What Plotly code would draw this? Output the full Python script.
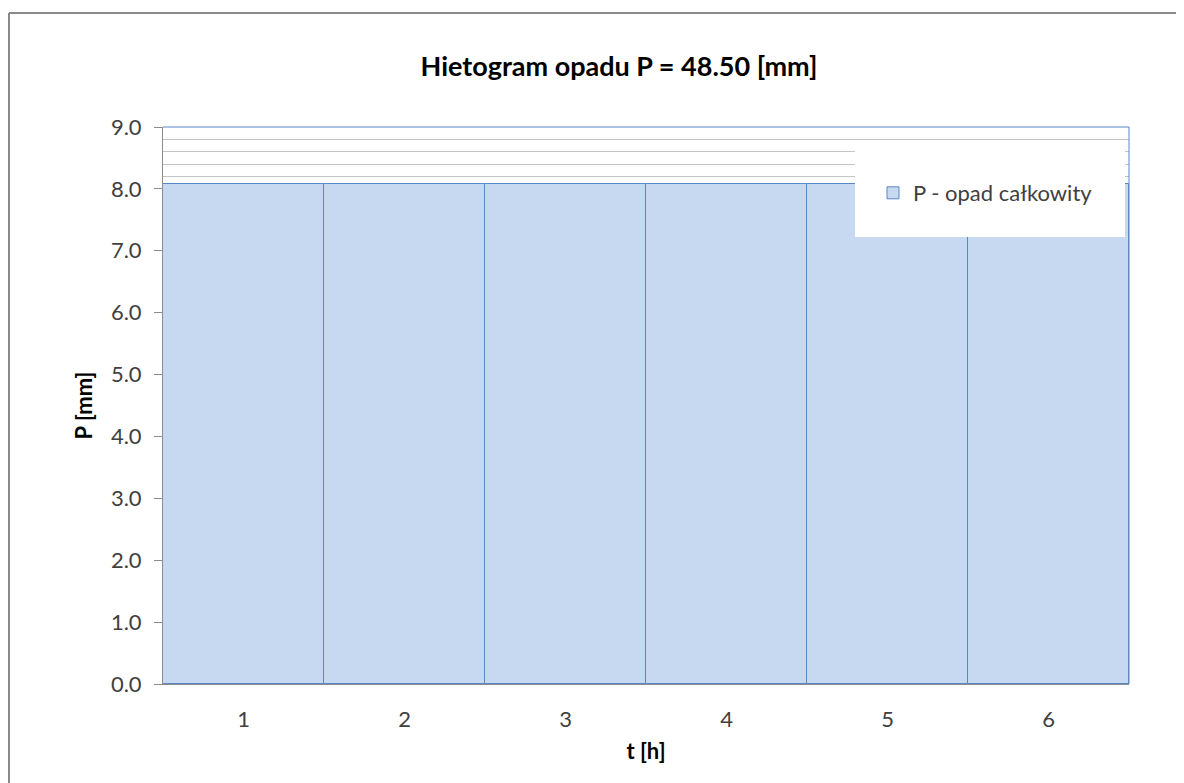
"""Hietogram opadu - wykres slupkowy opadu calkowitego w kolejnych godzinach."""
import plotly.graph_objects as go

# ── dane ──────────────────────────────────────────────────────────────────────
hours = ["1", "2", "3", "4", "5", "6"]
rain_mm = [8.08, 8.08, 8.08, 8.08, 8.08, 8.08]
total_mm = 48.50
y_ticks = [0.0, 1.0, 2.0, 3.0, 4.0, 5.0, 6.0, 7.0, 8.0, 9.0]

# ── styl ──────────────────────────────────────────────────────────────────────
_FONT = "Lato, Carlito, Calibri, sans-serif"
_C = {
    "fill": "#C6D9F0",
    "edge": "#5B86C5",
    "axis": "#8C8C8C",
    "grid": "#C4C4C4",
    "text": "#404040",
    "frame": "#8A8A8A",
}

# strona html ma 8 px marginesu, wiec wykres jest o tyle mniejszy
OFF = 8
W, H = 1184 - OFF, 783 - OFF
L, R, T, B = 163 - OFF, 1184 - 1129, 127 - OFF, 783 - 684
pw, ph = W - L - R, H - T - B


def px_x(p):
    """Pozycja piksela (wspolrzedne ekranu) -> paper x."""
    return (p - OFF - L) / pw


def px_y(p):
    """Pozycja piksela (wspolrzedne ekranu) -> paper y."""
    return (H - B - (p - OFF)) / ph


fig = go.Figure(go.Bar(
    x=hours,
    y=rain_mm,
    name="P - opad całkowity",
    marker=dict(color=_C["fill"], line=dict(color=_C["edge"], width=1)),
    hovertemplate="t = %{x} h<br>P = %{y:.2f} mm<extra></extra>",
))

fig.update_layout(
    width=W,
    height=H,
    margin=dict(l=L, r=R, t=T, b=B, autoexpand=False),
    paper_bgcolor="white",
    plot_bgcolor="white",
    bargap=0,
    font=dict(family=_FONT, size=22, color=_C["text"]),
    title=dict(
        text="<b>Hietogram opadu P = %.2f [mm]</b>" % total_mm,
        font=dict(family=_FONT, size=27, color="black"),
        x=px_x(619), xref="paper", xanchor="center",
        y=1 - (67 - OFF) / H, yref="container", yanchor="middle",
    ),
    xaxis=dict(
        title=dict(text="<b>t [h]</b>", font=dict(size=22, color="black"), standoff=12),
        showline=True, linecolor=_C["axis"], linewidth=1,
        showgrid=False, ticks="", ticklabelstandoff=16,
        range=[-0.5, 5.5],
    ),
    yaxis=dict(
        title=dict(text="<b>P [mm]</b>", font=dict(size=22, color="black"), standoff=12),
        range=[0, 9.0],
        tickvals=y_ticks,
        tickformat=".1f",
        showline=True, linecolor=_C["axis"], linewidth=1,
        ticks="outside", ticklen=8, tickcolor=_C["axis"],
        ticklabelstandoff=8,
        showgrid=True, gridcolor=_C["grid"], gridwidth=1,
        minor=dict(dtick=0.2, showgrid=True, gridcolor=_C["grid"], gridwidth=1),
        zeroline=False,
    ),
    legend=dict(
        x=px_x(873), xanchor="left",
        y=px_y(193), yanchor="middle",
        bgcolor="rgba(0,0,0,0)",
        font=dict(size=22, color=_C["text"]),
    ),
    showlegend=True,
    shapes=[
        # biale tlo legendy
        dict(type="rect", xref="paper", yref="paper", layer="above",
             x0=px_x(855), x1=px_x(1125), y0=px_y(237), y1=px_y(142),
             fillcolor="white", line=dict(width=0)),
        # ramka obszaru wykresu (gora i prawo)
        dict(type="line", xref="paper", yref="paper", layer="above",
             x0=0, x1=1, y0=1, y1=1, line=dict(color=_C["edge"], width=1)),
        dict(type="line", xref="paper", yref="paper", layer="above",
             x0=1, x1=1, y0=0, y1=1, line=dict(color=_C["edge"], width=1)),
        # zewnetrzna ramka wykresu
        dict(type="line", xref="paper", yref="paper", layer="above",
             x0=px_x(9), x1=px_x(1200), y0=px_y(13), y1=px_y(13),
             line=dict(color=_C["frame"], width=2)),
        dict(type="line", xref="paper", yref="paper", layer="above",
             x0=px_x(9), x1=px_x(9), y0=px_y(13), y1=px_y(800),
             line=dict(color=_C["frame"], width=2)),
    ],
)

fig.write_html("out.html")
